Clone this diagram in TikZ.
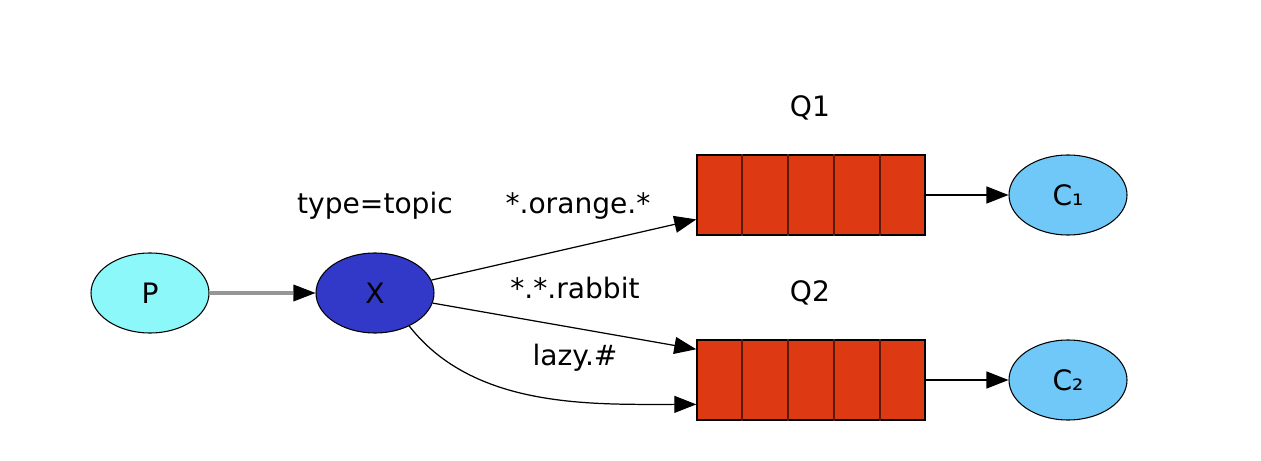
\documentclass[tikz,border=0pt]{standalone}
\usepackage{fontspec}
\setmainfont{DejaVu Sans}
\usepackage{xcolor}
\usetikzlibrary{arrows.meta,positioning,shapes.geometric,calc}

\definecolor{prodcyan}{RGB}{140,248,250}
\definecolor{exblue}{RGB}{50,56,200}
\definecolor{queuered}{RGB}{221,58,20}
\definecolor{queueline}{RGB}{90,25,10}
\definecolor{conscyan}{RGB}{111,200,248}
\definecolor{feedgray}{RGB}{150,150,150}

\begin{document}
\begin{tikzpicture}[
    every node/.style={font=\fontsize{16}{18}\selectfont},
    blob/.style={draw, ellipse, minimum width=2.36cm, minimum height=1.6cm, inner sep=0pt, line width=0.6pt},
    producer/.style={blob, fill=prodcyan},
    exchange/.style={blob, fill=exblue},
    consumer/.style={blob, fill=conscyan},
    queue/.style={draw, rectangle, fill=queuered, minimum width=4.56cm, minimum height=1.6cm, inner sep=0pt, line width=0.8pt},
    link/.style={-{Triangle[length=0.44cm, width=0.34cm]}, line width=0.7pt},
    feed/.style={-{Triangle[length=0.44cm, width=0.34cm, line width=0pt, color=black]}, draw=feedgray, line width=2.2pt}
]
\useasboundingbox (0,0) rectangle (25.22,9.2);

\node[producer] (producer) at (3.0,3.34) {P};
\node[exchange] (exchange) at (7.5,3.34) {X};

\node[queue] (q1) at (16.22,5.3) {};
\node[queue] (q2) at (16.22,1.6) {};
\foreach \q in {q1,q2}
  \foreach \i in {1,...,4}
    \draw[queueline, line width=0.9pt] ($(\q.north west)!\i/5!(\q.north east)$) -- ($(\q.south west)!\i/5!(\q.south east)$);

\node[consumer] (c1) at (21.36,5.3) {C₁};
\node[consumer] (c2) at (21.36,1.6) {C₂};

\node (q1label) at (16.2,7.04) {Q1};
\node (q2label) at (16.2,3.34) {Q2};
\node (typelabel) at (7.5,5.08) {type=topic};
\node (orangekey) at (11.56,5.08) {*.orange.*};
\node (rabbitkey) at (11.5,3.44) {*.*.rabbit};
\node (lazykey) at (11.5,2.04) {lazy.\#};

\draw[feed] (producer) -- (exchange);
\draw[link] (exchange) -- (q1.192);
\draw[link] (exchange) -- (q2.165);
\draw[link] (exchange.-44) to[out=-52, in=180, looseness=0.9] (q2.192);
\draw[link] (q1) -- (c1);
\draw[link] (q2) -- (c2);

\end{tikzpicture}
\end{document}
